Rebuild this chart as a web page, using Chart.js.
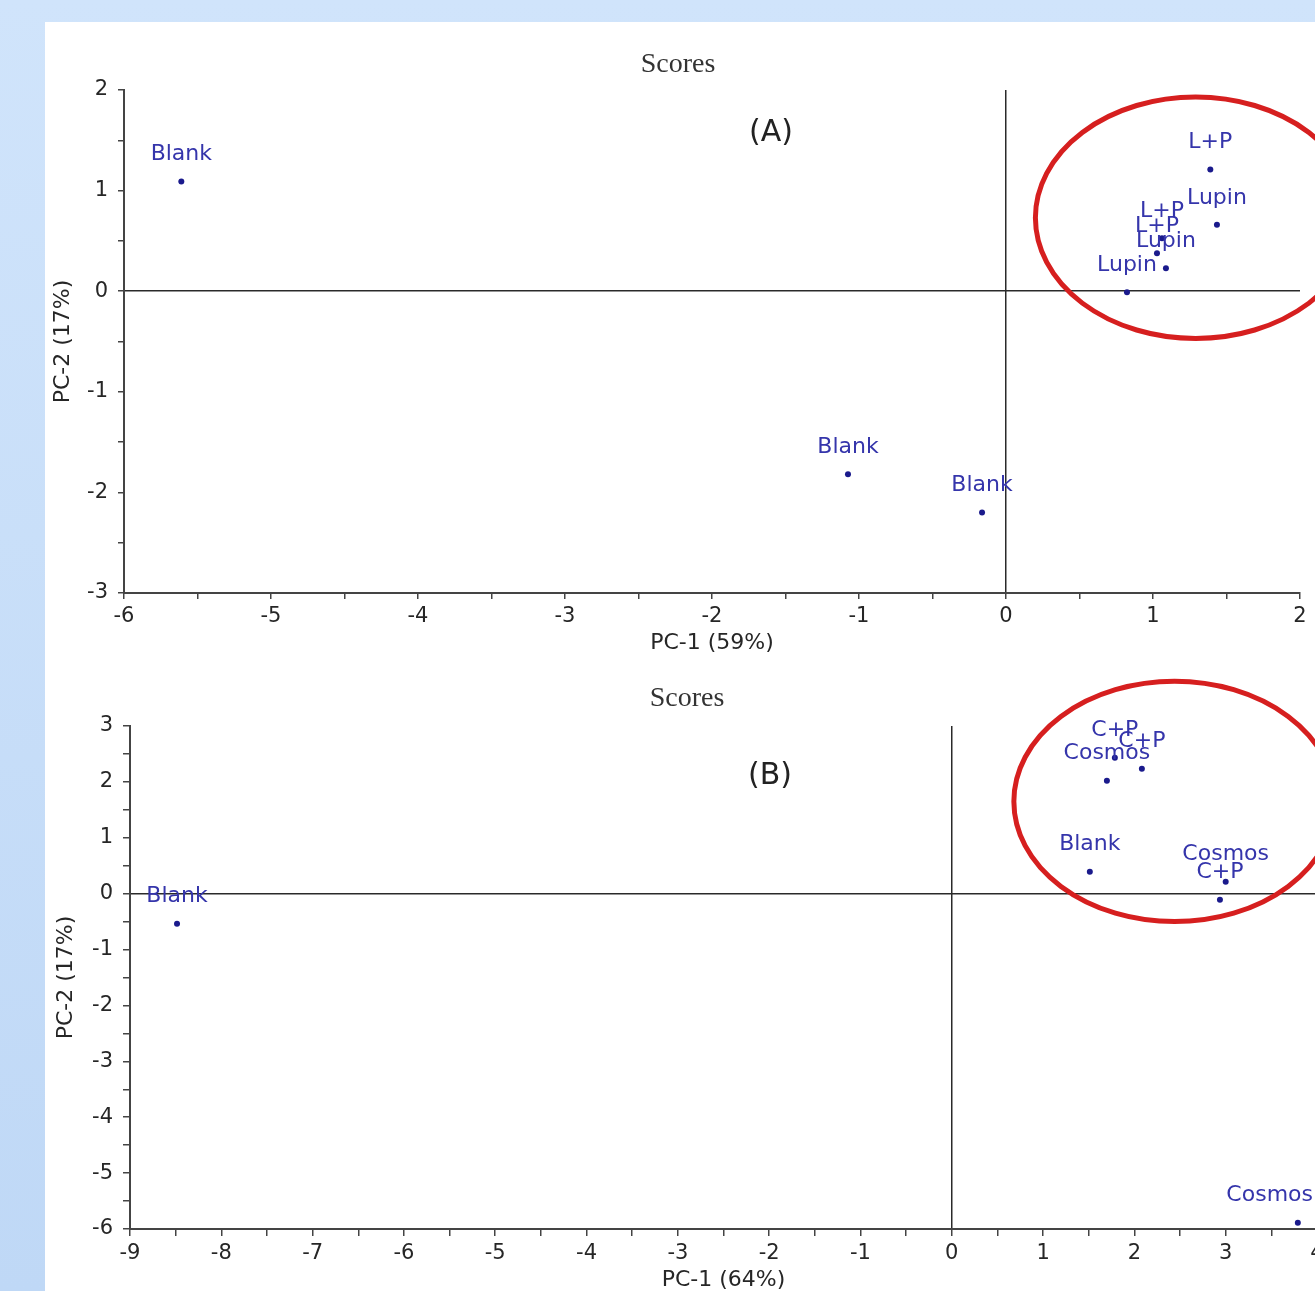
<!DOCTYPE html>
<html>
<head>
<meta charset="utf-8">
<script src="https://cdn.jsdelivr.net/npm/chart.js@4.4.1/dist/chart.umd.min.js"></script>
<style>
    html, body { margin: 0; padding: 0; overflow: hidden; width: 1315px; height: 1291px; }
    body { position: relative; background: linear-gradient(180deg, #d0e4fb 0%, #bfd8f6 100%); }
    .panel { position: absolute; left: 45px; top: 22px; right: 0; bottom: 0; background: #fff; }
    .box { position: absolute; left: 45px; width: 1320px; }
    .title { position: absolute; transform: translate(-50%, -50%); font-family: "Liberation Serif", serif; font-size: 28px; color: #333; white-space: nowrap; }
    .tag { position: absolute; transform: translate(-50%, -50%); font-family: "DejaVu Sans", sans-serif; font-size: 30px; color: #222; white-space: nowrap; }
</style>
</head>
<body>
<div class="panel"></div>
<div class="box" style="top:22px;height:650px"><canvas id="chartA"></canvas></div>
<div class="box" style="top:672px;height:640px"><canvas id="chartB"></canvas></div>
<div class="title" style="left:678px;top:63px">Scores</div>
<div class="tag" style="left:771px;top:130px">(A)</div>
<div class="title" style="left:687px;top:697px">Scores</div>
<div class="tag" style="left:770px;top:773px">(B)</div>

<script>
// scores plot (A)
const scoresA_labels = ['Blank', 'Blank', 'Blank', 'L+P', 'L+P', 'L+P', 'Lupin', 'Lupin', 'Lupin']
const scoresA_pc1 = [-5.61, -1.075, -0.163, 1.39, 1.061, 1.027, 1.435, 1.088, 0.823]
const scoresA_pc2 = [1.09, -1.82, -2.20, 1.21, 0.527, 0.378, 0.66, 0.229, -0.01]
const rangeA_pc1 = [-6, 2]
const rangeA_pc2 = [-3, 2]

// scores plot (B)
const scoresB_labels = ['Blank', 'C+P', 'C+P', 'Cosmos', 'Blank', 'Cosmos', 'C+P', 'Cosmos']
const scoresB_pc1 = [-8.485, 1.786, 2.082, 1.699, 1.512, 3.0, 2.937, 3.79]
const scoresB_pc2 = [-0.537, 2.433, 2.236, 2.02, 0.394, 0.215, -0.107, -5.886]
const rangeB_pc1 = [-9, 4]
const rangeB_pc2 = [-6, 3]

Chart.defaults.font.family = "'DejaVu Sans', sans-serif"
Chart.defaults.color = '#333'

// writes the sample name above each dot
const pointNames = {
    id: 'pointNames',
    afterDatasetsDraw(chart, args, opts) {
        const { ctx, chartArea } = chart
        const names = opts.names || []
        const meta = chart.getDatasetMeta(0)
        ctx.save()
        ctx.font = "22px 'DejaVu Sans', sans-serif"
        ctx.fillStyle = '#3535ab'
        ctx.textAlign = 'center'
        ctx.textBaseline = 'middle'
        meta.data.forEach((pt, i) => {
            const w = ctx.measureText(names[i]).width
            let x = Math.min(pt.x, chartArea.right - w / 2 - 4)
            ctx.fillText(names[i], x, pt.y - 27)
        })
        ctx.restore()
    }
}

// red ring around the cluster, given in data units
const ring = {
    id: 'ring',
    afterDraw(chart, args, opts) {
        if (!opts.cx && opts.cx !== 0) return
        const { ctx, scales } = chart
        const cx = scales.x.getPixelForValue(opts.cx)
        const cy = scales.y.getPixelForValue(opts.cy)
        const rx = Math.abs(scales.x.getPixelForValue(opts.cx + opts.rx) - cx)
        const ry = Math.abs(scales.y.getPixelForValue(opts.cy + opts.ry) - cy)
        ctx.save()
        ctx.beginPath()
        ctx.ellipse(cx, cy, rx, ry, 0, 0, Math.PI * 2)
        ctx.strokeStyle = '#d61f1f'
        ctx.lineWidth = 5
        ctx.stroke()
        ctx.restore()
    }
}

function makeScale(range, title, size, tickLen, tickPad, titlePad) {
    return {
        type: 'linear',
        min: range[0],
        max: range[1],
        afterFit: scale => {
            if (scale.isHorizontal()) scale.height = size
            else scale.width = size
        },
        ticks: {
            stepSize: 0.5,
            autoSkip: false,
            maxRotation: 0,
            padding: tickPad,
            color: '#262626',
            font: { size: 21 },
            callback: v => Number.isInteger(v) ? v : ''
        },
        grid: {
            drawOnChartArea: true,
            color: c => (c.tick && c.tick.value === 0) ? '#2a2a2a' : 'rgba(0,0,0,0)',
            lineWidth: 1.5,
            tickColor: '#444',
            tickLength: tickLen,
            tickWidth: 1.5
        },
        border: { display: true, color: '#444', width: 2 },
        title: {
            display: true,
            text: title,
            color: '#262626',
            font: { size: 22 },
            padding: titlePad
        }
    }
}

function makeChart(id, names, xs, ys, xr, yr, cfg) {
    const pts = xs.map((x, i) => ({ x: x, y: ys[i] }))
    return new Chart(document.getElementById(id), {
        type: 'scatter',
        data: {
            datasets: [{
                data: pts,
                pointRadius: 3,
                pointHoverRadius: 3,
                pointBackgroundColor: '#1a1a8c',
                pointBorderWidth: 0
            }]
        },
        options: {
            responsive: true,
            maintainAspectRatio: false,
            animation: false,
            events: [],
            layout: { padding: cfg.padding },
            plugins: {
                legend: { display: false },
                tooltip: { enabled: false },
                pointNames: { names: names },
                ring: cfg.ring
            },
            scales: {
                x: makeScale(xr, cfg.xTitle, cfg.xSize, cfg.tickLen, 5, { top: 0, bottom: cfg.xTitlePad }),
                y: makeScale(yr, cfg.yTitle, cfg.ySize, cfg.tickLen, 10, { top: cfg.yTitlePad, bottom: 0 })
            }
        },
        plugins: [pointNames, ring]
    })
}

makeChart('chartA', scoresA_labels, scoresA_pc1, scoresA_pc2, rangeA_pc1, rangeA_pc2, {
    padding: { top: 68, right: 65, left: 0, bottom: 0 },
    xTitle: 'PC-1 (59%)', yTitle: 'PC-2 (17%)',
    xSize: 79, ySize: 79, tickLen: 6,
    xTitlePad: 16, yTitlePad: 5,
    ring: { cx: 1.29, cy: 0.73, rx: 1.09, ry: 1.2 }
})

makeChart('chartB', scoresB_labels, scoresB_pc1, scoresB_pc2, rangeB_pc1, rangeB_pc2, {
    padding: { top: 54, right: 48, left: 0, bottom: 0 },
    xTitle: 'PC-1 (64%)', yTitle: 'PC-2 (17%)',
    xSize: 83, ySize: 85, tickLen: 7,
    xTitlePad: 19, yTitlePad: 8,
    ring: { cx: 2.44, cy: 1.65, rx: 1.76, ry: 2.15 }
})
</script>
</body>
</html>
